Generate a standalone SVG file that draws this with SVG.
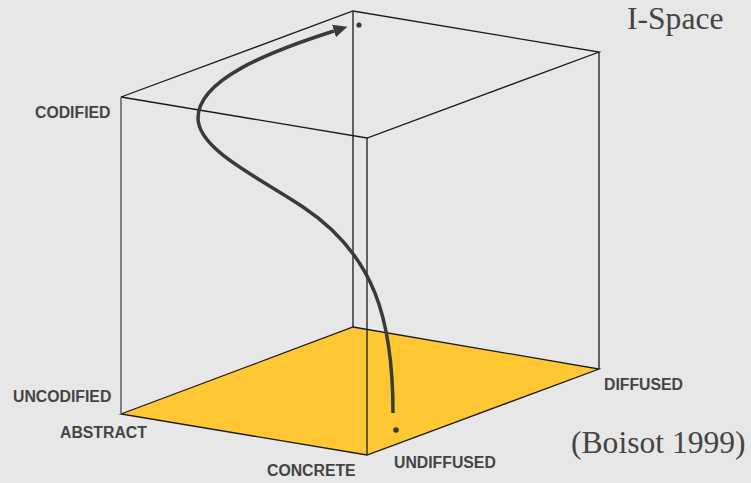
<svg xmlns="http://www.w3.org/2000/svg" width="751" height="483" viewBox="0 0 751 483">
  <style>
    .edge { stroke: #1a1a1a; stroke-width: 1.3; fill: none; }
    .gray { stroke: #666; stroke-width: 1.6; fill: none; }
    .lbl { font-family: "Liberation Sans", Arial, sans-serif; font-weight: bold; font-size: 15.8px; fill: #444; }
    .ser { font-family: "Liberation Serif", "Times New Roman", serif; font-size: 31.6px; fill: #444; }
    .flow { stroke: #3a3a3a; stroke-width: 3.5; fill: none; stroke-linecap: butt; }
  </style>
  <defs>
    <marker id="arr" markerUnits="userSpaceOnUse" markerWidth="16" markerHeight="14" viewBox="0 -7 16 14" refX="0" refY="0" orient="auto">
      <path d="M0,-6.5 L14,0 L0,6.5 Z" fill="#3a3a3a"/>
    </marker>
  </defs>
  <rect width="751" height="483" fill="#e7e7e7"/>

  <g id="floor">
    <polygon points="121,414 353,327 599,369 367,455" fill="#ffc733" stroke="#1a1a1a" stroke-width="1.3"/>
  </g>

  <g id="cube">
    <line class="edge" x1="353" y1="11" x2="353" y2="327"/>
    <polyline class="edge" points="121,97 353,11 599,52 367,138 121,97"/>
    <line class="gray" x1="121" y1="97" x2="121" y2="414"/>
    <line class="edge" x1="599" y1="52" x2="599" y2="369"/>
    <line class="edge" x1="367" y1="138" x2="367" y2="455" stroke="#333"/>
  </g>

  <g id="connectors">
    <path class="flow" d="M393,413 C393,320 375,255 303,207 C260,178 198,150 198,118 C198,80 268,52 334,31" marker-end="url(#arr)"/>
    <circle cx="359" cy="25" r="2.6" fill="#3a3a3a"/>
    <circle cx="396" cy="430" r="2.8" fill="#3a3a3a"/>
  </g>

  <g id="labels">
    <text class="lbl" x="35" y="118">CODIFIED</text>
    <text class="lbl" x="13" y="402">UNCODIFIED</text>
    <text class="lbl" x="60" y="438">ABSTRACT</text>
    <text class="lbl" x="267" y="476">CONCRETE</text>
    <text class="lbl" x="394" y="468">UNDIFFUSED</text>
    <text class="lbl" x="604" y="390">DIFFUSED</text>
    <text class="ser" x="627" y="29">I-Space</text>
    <text class="ser" x="571" y="453">(Boisot 1999)</text>
  </g>
</svg>
